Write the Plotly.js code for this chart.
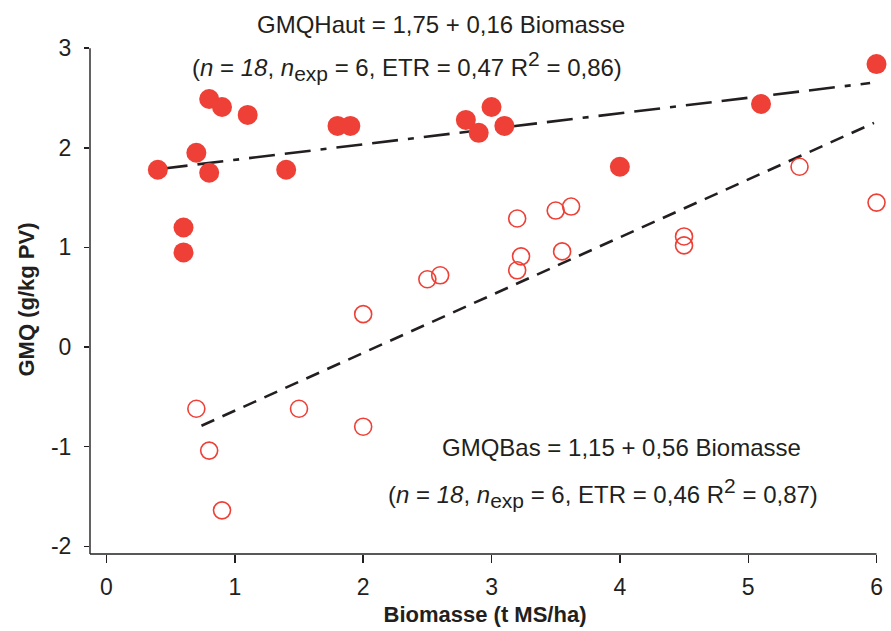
<!DOCTYPE html>
<html>
<head>
<meta charset="utf-8">
<script src="https://cdn.plot.ly/plotly-3.0.1.min.js"></script>
<style>html,body{margin:0;padding:0;background:#fff;}</style>
</head>
<body>
<div id="chart" style="width:891px;height:631px;"></div>
<script>
// GMQ Haut (filled circles)
const hautBiomasse = [0.4, 0.7, 0.6, 0.6, 0.8, 0.8, 0.9, 1.1, 1.4, 1.8, 1.9, 2.8, 2.9, 3.0, 3.1, 4.0, 5.1, 6.0];
const hautGMQ      = [1.78, 1.95, 1.2, 0.95, 2.49, 1.75, 2.41, 2.33, 1.78, 2.22, 2.22, 2.28, 2.15, 2.41, 2.22, 1.81, 2.44, 2.84];
// GMQ Bas (open circles)
const basBiomasse = [0.7, 0.8, 0.9, 1.5, 2.0, 2.0, 2.5, 2.6, 3.2, 3.2, 3.23, 3.5, 3.62, 3.55, 4.5, 4.5, 5.4, 6.0];
const basGMQ      = [-0.62, -1.04, -1.64, -0.62, 0.33, -0.8, 0.68, 0.72, 1.29, 0.77, 0.91, 1.37, 1.41, 0.96, 1.11, 1.02, 1.81, 1.45];
// Fitted regression lines (end points)
const fitHautX = [0.43, 5.95];
const fitHautY = [1.79, 2.65];
const fitBasX  = [0.74, 5.98];
const fitBasY  = [-0.79, 2.25];
// Axis ticks
const xTicks = [0, 1, 2, 3, 4, 5, 6];
const xTickText = ["0", "1", "2", "3", "4", "5", "6"];
const yTicks = [3, 2, 1, 0, -1, -2];
const yTickText = ["3", "2", "1", "0", "-1", "-2"];

const red = "#ee4036";
const ink = "#231f20";
const font = "Liberation Sans, Arial, Helvetica, sans-serif";
const sub = s => '<sub><span style="font-size:21px">' + s + '</span></sub>';
const sup = s => '<sup><span style="font-size:21px">' + s + '</span></sup>';

const traces = [
  {x: fitHautX, y: fitHautY, mode: "lines", type: "scatter",
   line: {color: ink, width: 2.6, dash: "26px,10px,26px,10px,6px,10px"}, hoverinfo: "skip"},
  {x: fitBasX, y: fitBasY, mode: "lines", type: "scatter",
   line: {color: ink, width: 2.6, dash: "14px,9px"}, hoverinfo: "skip"},
  {x: basBiomasse, y: basGMQ, mode: "markers", type: "scatter", cliponaxis: false,
   marker: {symbol: "circle-open", size: 17, color: red, line: {width: 1.6, color: red}}},
  {x: hautBiomasse, y: hautGMQ, mode: "markers", type: "scatter", cliponaxis: false,
   marker: {symbol: "circle", size: 20, color: red, line: {width: 0}}}
];

const layout = {
  width: 891, height: 631,
  margin: {l: 90, r: 11, t: 45, b: 77},
  paper_bgcolor: "#fff", plot_bgcolor: "#fff",
  showlegend: false,
  font: {family: font, color: ink, size: 23},
  xaxis: {
    range: [-0.1286, 6.027], showgrid: false, zeroline: false, showline: false,
    tickmode: "array", tickvals: xTicks, ticktext: xTickText,
    ticks: "outside", ticklen: 8, tickwidth: 1.4, tickcolor: ink,
    ticklabelstandoff: 4,
    tickfont: {size: 23, family: font, color: ink},
    title: {text: "<b>Biomasse (t MS/ha)</b>", font: {size: 22, family: font, color: ink}, standoff: 8}
  },
  yaxis: {
    range: [-2.078, 3.032], showgrid: false, zeroline: false, showline: false,
    tickmode: "array", tickvals: yTicks, ticktext: yTickText,
    ticks: "outside", ticklen: 5, tickwidth: 1.4, tickcolor: ink,
    ticklabelstandoff: 8,
    tickfont: {size: 23, family: font, color: ink},
    title: {text: "<b>GMQ (g/kg PV)</b>", font: {size: 22, family: font, color: ink}, standoff: 10}
  },
  shapes: [
    {type: "line", xref: "paper", yref: "y", x0: 0, x1: 0, y0: 3, y1: -2.078, line: {color: ink, width: 1.4}},
    {type: "line", xref: "x", yref: "paper", x0: -0.1286, x1: 6, y0: 0, y1: 0, line: {color: ink, width: 1.4}}
  ],
  annotations: [
    {xref: "paper", yref: "paper", x: (441 - 90) / 790, y: (554 - 24) / 509, showarrow: false, xanchor: "center", yanchor: "middle",
     text: "GMQHaut = 1,75 + 0,16 Biomasse", font: {size: 24, family: font, color: ink}},
    {xref: "paper", yref: "paper", x: (407 - 90) / 790, y: (554 - 66) / 509, showarrow: false, xanchor: "center", yanchor: "middle",
     text: "(<i>n</i> = <i>18</i>, <i>n</i>" + sub("exp") + " = 6, ETR = 0,47 R" + sup("2") + " = 0,86)", font: {size: 24, family: font, color: ink}},
    {xref: "paper", yref: "paper", x: (621 - 90) / 790, y: (554 - 447) / 509, showarrow: false, xanchor: "center", yanchor: "middle",
     text: "GMQBas = 1,15 + 0,56 Biomasse", font: {size: 24, family: font, color: ink}},
    {xref: "paper", yref: "paper", x: (603 - 90) / 790, y: (554 - 493) / 509, showarrow: false, xanchor: "center", yanchor: "middle",
     text: "(<i>n</i> = <i>18</i>, <i>n</i>" + sub("exp") + " = 6, ETR = 0,46 R" + sup("2") + " = 0,87)", font: {size: 24, family: font, color: ink}}
  ]
};

Plotly.newPlot("chart", traces, layout, {displayModeBar: false, staticPlot: true});
</script>
</body>
</html>
